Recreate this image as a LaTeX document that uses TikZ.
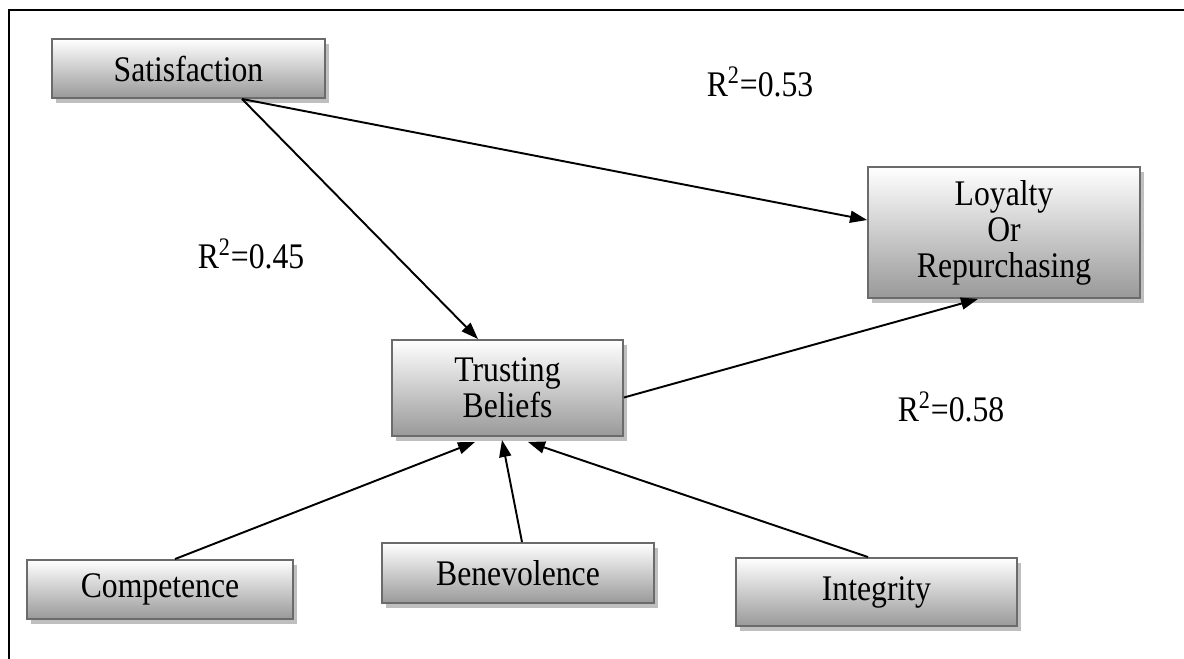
\documentclass[tikz,border=0pt]{standalone}
\usepackage{fontspec}
\setmainfont{Liberation Serif}[FakeStretch=0.88]
\usetikzlibrary{arrows.meta,shadows}
\tikzset{
  box/.style={draw=black!58, line width=1.1pt, top color=white, bottom color=black!40,
    font=\fontsize{20.5}{20.5}\selectfont, align=center, inner sep=0pt,
    drop shadow={shadow xshift=0.08cm, shadow yshift=-0.1cm, fill=black!25, opacity=1}},
  link/.style={line width=1.1pt, -{Triangle[length=0.34cm,width=0.24cm]}},
  rsq/.style={font=\fontsize{20.5}{20.5}\selectfont}
}
\begin{document}
\begin{tikzpicture}[x=0.02cm,y=-0.02cm]
                \useasboundingbox (0,0) rectangle (1184,659);
                \draw [line width=1.2pt] (9,659) -- (9,10) -- (1184,10);

                \node [box, minimum width=5.46cm, minimum height=1.18cm] (sat) at (188.5,68.5) {Satisfaction};
                \node [box, minimum width=5.44cm, minimum height=2.62cm] (loy) at (1004,232.5) {Loyalty\\Or\\Repurchasing};
                \node [box, minimum width=4.62cm, minimum height=1.92cm] (trust) at (507.5,388) {Trusting\\Beliefs};
                \node [box, minimum width=5.32cm, minimum height=1.18cm] (comp) at (160,589.5) {Competence};
                \node [box, minimum width=5.44cm, minimum height=1.2cm] (bene) at (518,573) {Benevolence};
                \node [box, minimum width=5.62cm, minimum height=1.36cm] (integ) at (876.5,592) {Integrity};

                \node [rsq] (r53) at (760,82) {R\textsuperscript{2}=0.53};
                \node [rsq] (r45) at (251,254) {R\textsuperscript{2}=0.45};
                \node [rsq] (r58) at (951,407) {R\textsuperscript{2}=0.58};

                \draw [link] ([xshift=1.07cm]sat.south) -- ([xshift=-0.59cm]trust.north);
                \draw [link] ([xshift=1.07cm]sat.south) -- ([yshift=0.25cm]loy.west);
                \draw [link] ([yshift=-0.19cm]trust.east) -- ([xshift=-0.52cm]loy.south);
                \draw [link] ([xshift=0.3cm]comp.north) -- ([xshift=-0.65cm,yshift=-0.1cm]trust.south);
                \draw [link] ([xshift=0.08cm]bene.north) -- ([xshift=-0.11cm,yshift=-0.06cm]trust.south);
                \draw [link] ([xshift=-0.17cm]integ.north) -- ([xshift=0.41cm,yshift=-0.1cm]trust.south);
            \end{tikzpicture}
\end{document}
